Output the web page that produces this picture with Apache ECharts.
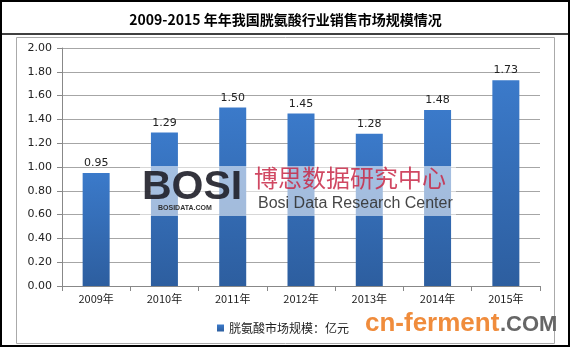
<!DOCTYPE html>
<html>
<head>
<meta charset="utf-8">
<script src="https://cdn.jsdelivr.net/npm/echarts@6/dist/echarts.min.js"></script>
<style>
html,body{margin:0;padding:0;background:#fff;}
#c{width:571px;height:348px;}
</style>
</head>
<body>
<div id="c"></div>
<script>
var categories = ['2009年','2010年','2011年','2012年','2013年','2014年','2015年'];
var values = [0.95, 1.29, 1.50, 1.45, 1.28, 1.48, 1.73];
var seriesName = '胱氨酸市场规模：亿元';
var titleText = '2009-2015 年年我国胱氨酸行业销售市场规模情况';

var chart = echarts.init(document.getElementById('c'), null, {renderer:'canvas'});
var cjk = '"Noto Sans CJK SC", "DejaVu Sans", sans-serif';
chart.setOption({
  animation: false,
  backgroundColor: '#fff',
  title: {
    text: titleText,
    left: 'center', top: 8,
    textStyle: {fontFamily: cjk, fontSize: 14, fontWeight: 'bold', color: '#000'}
  },
  grid: {left: 62, right: 31, top: 48, bottom: 62},
  legend: {
    data: [seriesName],
    left: 212, top: 317,
    itemWidth: 7, itemHeight: 7, icon: 'rect', itemGap: 4,
    textStyle: {fontFamily: cjk, fontSize: 12, color: '#222'}
  },
  xAxis: {
    type: 'category', data: categories,
    axisLine: {lineStyle: {color: '#888'}},
    axisTick: {show: true, alignWithLabel: false, lineStyle: {color: '#888'}},
    axisLabel: {fontFamily: cjk, fontSize: 11, color: '#222', margin: 7}
  },
  yAxis: {
    type: 'value', min: 0, max: 2, interval: 0.2,
    axisLine: {show: true, lineStyle: {color: '#888'}},
    axisTick: {show: true, lineStyle: {color: '#888'}},
    axisLabel: {fontFamily: '"DejaVu Sans", sans-serif', fontSize: 11, color: '#222', margin: 10,
      formatter: function(v){return v.toFixed(2);}},
    splitLine: {lineStyle: {color: '#a6a6a6'}}
  },
  series: [{
    name: seriesName, type: 'bar', data: values, barWidth: 27,
    itemStyle: {color: new echarts.graphic.LinearGradient(0,0,0,1,[
      {offset:0,color:'#3b7aca'},{offset:1,color:'#2d5e9f'}])},
    label: {show: true, position: 'top', distance: 4, fontFamily: '"DejaVu Sans", sans-serif', fontSize: 11, color: '#222',
      formatter: function(p){return p.value.toFixed(2);}},
    z: 2
  }],
  graphic: [
    {type:'rect', shape:{x:1, y:1, width:568, height:345}, style:{fill:'none', stroke:'#000', lineWidth:2}, z:10},
    {type:'line', shape:{x1:1, y1:34, x2:569, y2:34}, style:{stroke:'#000', lineWidth:1.5}, z:10},
    {type:'rect', shape:{x:16.5, y:37.5, width:538, height:306}, style:{fill:'none', stroke:'#aaa', lineWidth:1}, z:10},
    // BOSI watermark
    {type:'rect', shape:{x:140, y:166, width:316, height:50}, style:{fill:'rgba(255,255,255,0.55)'}, z:20},
    {type:'text', left:142, top:167, style:{text:'BOSI', font:'bold 41px "Liberation Sans", sans-serif', fill:'rgba(30,30,40,0.9)'}, z:21},
    {type:'text', left:158, top:205, style:{text:'BOSIDATA.COM', font:'bold 7px "Liberation Sans", sans-serif', fill:'#333'}, z:21},
    {type:'text', left:254, top:166, style:{text:'博思数据研究中心', font:'24px "Noto Sans CJK SC", sans-serif', fill:'rgba(200,40,70,0.85)'}, z:21},
    {type:'text', left:258, top:196, style:{text:'Bosi Data Research Center', font:'16px "Liberation Sans", sans-serif', fill:'rgba(50,50,50,0.9)'}, z:21},
    // cn-ferment watermark
    {type:'text', left:365, top:311, style:{text:'cn-ferment', font:'bold 26px "Liberation Sans", sans-serif', fill:'#f08c3c'}, z:21},
    {type:'text', left:500, top:314, style:{text:'.COM', font:'bold 22px "Liberation Sans", sans-serif', fill:'#666'}, z:21}
  ]
});
</script>
</body>
</html>
